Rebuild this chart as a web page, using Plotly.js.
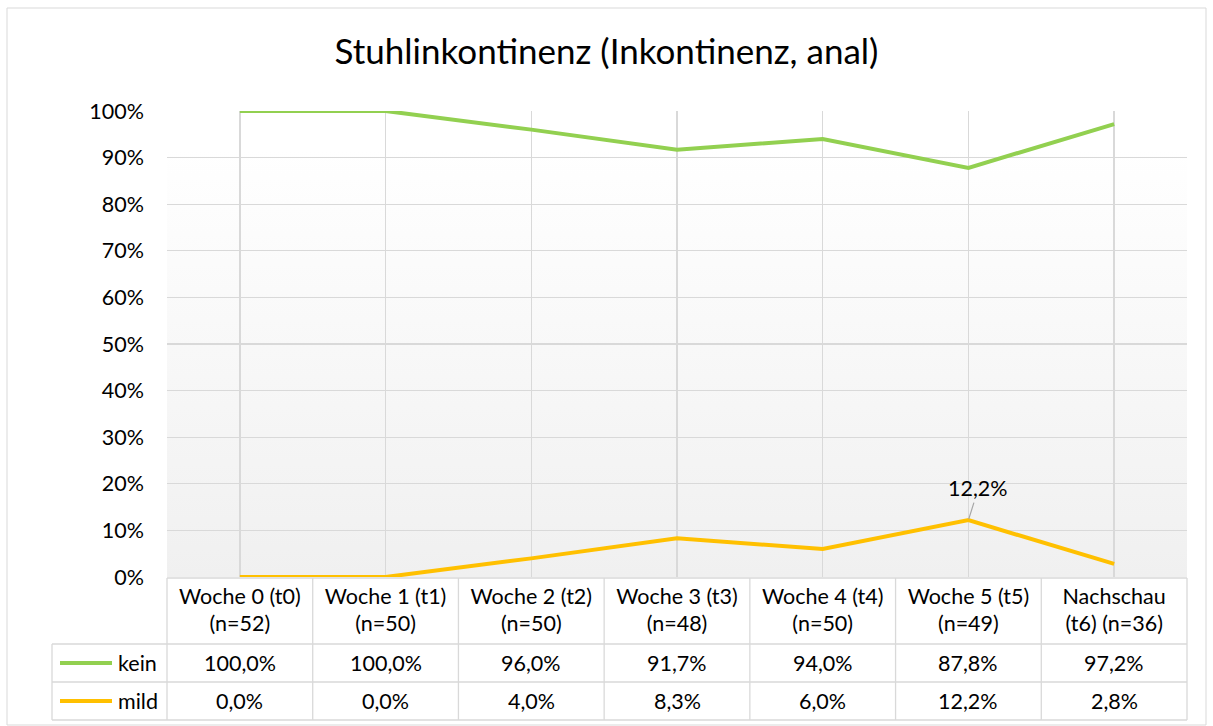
<!DOCTYPE html>
<html>
<head>
<meta charset="utf-8">
<script src="https://cdn.plot.ly/plotly-3.0.1.min.js"></script>
<style>html,body{margin:0;padding:0;background:#fff;}#chart{width:1213px;height:726px;}</style>
</head>
<body>
<div id="chart"></div>
<script>
// ---- data ----
const categories = ["Woche 0 (t0)<br>(n=52)", "Woche 1 (t1)<br>(n=50)", "Woche 2 (t2)<br>(n=50)", "Woche 3 (t3)<br>(n=48)", "Woche 4 (t4)<br>(n=50)", "Woche 5 (t5)<br>(n=49)", "Nachschau<br>(t6) (n=36)"];
const seriesNames = ["kein", "mild"];
const kein = [1.000, 1.000, 0.960, 0.917, 0.940, 0.878, 0.972];
const mild = [0.000, 0.000, 0.040, 0.083, 0.060, 0.122, 0.028];
const yTickVals = [0, 0.1, 0.2, 0.3, 0.4, 0.5, 0.6, 0.7, 0.8, 0.9, 1.0];
const labelledPoint = {series: "mild", index: 5};

// ---- layout helpers ----
const W = 1213, H = 726;
const mL = 167, mR = 26, mT = 111, mB = 149;
const plotW = W - mL - mR, plotH = H - mT - mB;
const px2x = p => (p - mL) / plotW;
const py2y = p => (H - mB - p) / plotH;
const FONT = "Lato, 'Noto Sans', sans-serif";
const FS = 21.5;
const colors = {kein: "#92d050", mild: "#ffc000"};
const gridC = "#d9d9d9";
const fmt = v => (v * 100).toFixed(1).replace(".", ",") + "%";

const idx = categories.map((_, i) => i);
const data = [
  {x: idx, y: kein, type: "scatter", mode: "lines", name: "kein", line: {color: colors.kein, width: 4}, hoverinfo: "skip", cliponaxis: false},
  {x: idx, y: mild, type: "scatter", mode: "lines", name: "mild", line: {color: colors.mild, width: 4}, hoverinfo: "skip", cliponaxis: false}
];

// table geometry (pixels)
const headerTop = 578, keinTop = 644, mildTop = 682, tableBottom = 720, legendLeft = 52;
const shapes = [];
const annotations = [];
const line = (x0, y0, x1, y1) => shapes.push({type: "line", xref: "paper", yref: "paper", x0, y0, x1, y1, line: {color: gridC, width: 1.3}, layer: "above"});

// horizontal table lines
line(0, py2y(headerTop), 1, py2y(headerTop));
line(px2x(legendLeft), py2y(keinTop), 1, py2y(keinTop));
line(px2x(legendLeft), py2y(mildTop), 1, py2y(mildTop));
line(px2x(legendLeft), py2y(tableBottom), 1, py2y(tableBottom));
// vertical table lines
line(px2x(legendLeft), py2y(keinTop), px2x(legendLeft), py2y(tableBottom));
line(0, py2y(headerTop), 0, py2y(tableBottom));
line(1, py2y(headerTop), 1, py2y(tableBottom));
for (let i = 0; i < categories.length - 1; i++) {
  shapes.push({type: "line", xref: "x", yref: "paper", x0: i + 0.5, x1: i + 0.5, y0: py2y(headerTop), y1: py2y(tableBottom), line: {color: gridC, width: 1.3}});
}
// outer chart border
shapes.push({type: "rect", xref: "paper", yref: "paper", x0: px2x(7), x1: px2x(1206), y0: py2y(725), y1: py2y(8), line: {color: gridC, width: 1}, fillcolor: "rgba(0,0,0,0)"});

// table rows
const rows = [{name: "kein", vals: kein, top: keinTop, bot: mildTop}, {name: "mild", vals: mild, top: mildTop, bot: tableBottom}];
rows.forEach(r => {
  const yc = py2y((r.top + r.bot) / 2);
  shapes.push({type: "line", xref: "paper", yref: "paper", x0: px2x(60), x1: px2x(112), y0: yc, y1: yc, line: {color: colors[r.name], width: 4}});
  annotations.push({xref: "paper", yref: "paper", x: px2x(116), y: yc, xanchor: "left", yanchor: "middle", text: r.name, showarrow: false, font: {family: FONT, size: FS, color: "#000"}});
  r.vals.forEach((v, i) => {
    annotations.push({xref: "x", yref: "paper", x: i, y: yc, xanchor: "center", yanchor: "middle", text: fmt(v), showarrow: false, font: {family: FONT, size: FS, color: "#000"}});
  });
});

// data label
const lv = (labelledPoint.series === "mild" ? mild : kein)[labelledPoint.index];
annotations.push({xref: "x", yref: "y", x: labelledPoint.index, y: lv, text: fmt(lv), showarrow: true, arrowhead: 0, arrowwidth: 1.2, arrowcolor: "#a6a6a6", ax: 10, ay: -32, standoff: 1, font: {family: FONT, size: FS, color: "#000"}});

const gradSvg = "<svg xmlns='http://www.w3.org/2000/svg' width='100' height='100' preserveAspectRatio='none'><defs><linearGradient id='g' x1='0' y1='0' x2='0' y2='1'><stop offset='0.08' stop-color='#ffffff'/><stop offset='1' stop-color='#f0f0f0'/></linearGradient></defs><rect width='100' height='100' fill='url(#g)'/></svg>";

const layout = {
  width: W, height: H,
  margin: {l: mL, r: mR, t: mT, b: mB, pad: 0},
  paper_bgcolor: "#ffffff",
  plot_bgcolor: "rgba(0,0,0,0)",
  separators: ",.",
  showlegend: false,
  font: {family: FONT, size: FS, color: "#000"},
  title: {text: "Stuhlinkontinenz (Inkontinenz, anal)", font: {family: FONT, size: 35, color: "#000"}, x: 0.5, xref: "container", y: 1 - 52 / H, yref: "container", yanchor: "middle"},
  xaxis: {
    type: "linear", range: [-0.5, categories.length - 0.5],
    tickmode: "array", tickvals: idx, ticktext: categories,
    showgrid: true, gridcolor: gridC, gridwidth: 1.3, zeroline: false, showline: false,
    ticks: "", ticklabelstandoff: 4, tickfont: {family: FONT, size: FS, color: "#000"}, fixedrange: true
  },
  yaxis: {
    range: [0, 1], tickmode: "array", tickvals: yTickVals, tickformat: ".0%",
    showgrid: true, gridcolor: gridC, gridwidth: 1.3, zeroline: false, showline: false,
    ticks: "", ticklabelstandoff: 22, tickfont: {family: FONT, size: FS, color: "#000"}, fixedrange: true
  },
  images: [{source: "data:image/svg+xml;charset=utf-8," + encodeURIComponent(gradSvg), xref: "paper", yref: "paper", x: 0, y: 1, sizex: 1, sizey: 1, sizing: "stretch", xanchor: "left", yanchor: "top", layer: "below"}],
  shapes, annotations
};

Plotly.newPlot("chart", data, layout, {staticPlot: true, displayModeBar: false});
</script>
</body>
</html>
